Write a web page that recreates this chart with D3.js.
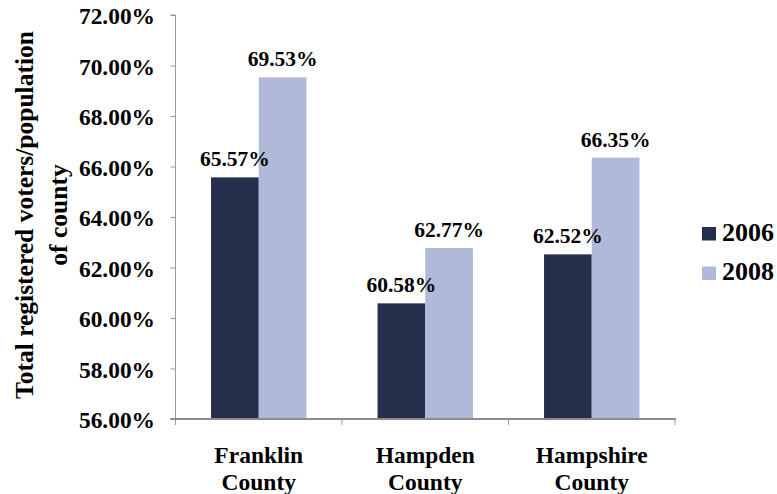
<!DOCTYPE html>
<html>
<head>
<meta charset="utf-8">
<script src="https://cdn.jsdelivr.net/npm/d3@7"></script>
<style>
  body { margin: 0; background: #fff; }
  text { font-family: "Liberation Serif", "Times New Roman", serif; font-weight: bold; fill: #000; }
</style>
</head>
<body>
<div id="chart"></div>
<script>
// data
let counties = ["Franklin County", "Hampden County", "Hampshire County"];
let years = ["2006", "2008"];
let v2006 = [65.57, 60.58, 62.52];
let v2008 = [69.53, 62.77, 66.35];
let yTicks = [56, 58, 60, 62, 64, 66, 68, 70, 72];

let palette = ["#252e4a", "#b0b9d7"];

let width = 777,
    height = 494,
    plotLeft = 175.5,
    plotRight = 675,
    plotTop = 15,
    plotBottom = 419;

let rows = counties.map((c, i) => ({county: c, values: [v2006[i], v2008[i]]}));

let svg = d3.select("#chart")
    .append("svg")
    .attr("width", width)
    .attr("height", height);

let x0 = d3.scaleBand()
    .domain(counties)
    .range([plotLeft, plotRight])
    .paddingInner(0)
    .paddingOuter(0);

let x1 = d3.scaleBand()
    .domain(years)
    .range([0, x0.bandwidth()])
    .paddingInner(0)
    .paddingOuter(0.745);

let y = d3.scaleLinear()
    .domain([56, 72])
    .range([plotBottom, plotTop]);

let color = d3.scaleOrdinal().domain(years).range(palette);

// bars
let group = svg.selectAll("g.county")
    .data(rows)
    .join("g")
    .attr("class", "county")
    .attr("transform", d => `translate(${x0(d.county)},0)`);

group.selectAll("rect")
    .data(d => d.values.map((v, i) => ({year: years[i], value: v})))
    .join("rect")
    .attr("x", d => x1(d.year))
    .attr("y", d => y(d.value))
    .attr("width", x1.bandwidth())
    .attr("height", d => y(56) - y(d.value))
    .attr("fill", d => color(d.year));

group.selectAll("text.val")
    .data(d => d.values.map((v, i) => ({year: years[i], value: v})))
    .join("text")
    .attr("class", "val")
    .attr("x", d => x1(d.year) + x1.bandwidth() / 2)
    .attr("y", d => y(d.value) - 11)
    .attr("text-anchor", "middle")
    .attr("font-size", 21.5)
    .text(d => d.value.toFixed(2) + "%");

// y axis
let yAxis = svg.append("g")
    .attr("transform", `translate(${plotLeft},0)`)
    .call(d3.axisLeft(y)
        .tickValues(yTicks)
        .tickSize(5)
        .tickPadding(15.5)
        .tickFormat(d => d.toFixed(2) + "%"));

yAxis.select(".domain").attr("stroke", "#999").attr("d", `M-5,${plotTop}H0V${plotBottom}H-5`);
yAxis.selectAll(".tick line").attr("stroke", "#999");
yAxis.selectAll(".tick text")
    .attr("font-size", 23.4)
    .attr("font-family", "Liberation Serif, serif")
    .attr("font-weight", "bold")
    .attr("dy", "0.38em");

// x axis with ticks at the band edges
let edges = counties.map(c => x0(c)).concat([x0(counties[counties.length - 1]) + x0.bandwidth()]);

svg.append("line")
    .attr("x1", plotLeft - 5).attr("x2", plotRight + 1)
    .attr("y1", plotBottom).attr("y2", plotBottom)
    .attr("stroke", "#8c8c8c")
    .attr("stroke-width", 2);

svg.selectAll("line.xtick")
    .data(edges)
    .join("line")
    .attr("class", "xtick")
    .attr("x1", d => d).attr("x2", d => d)
    .attr("y1", plotBottom).attr("y2", plotBottom + 6)
    .attr("stroke", "#999");

let xl = svg.selectAll("text.xlab")
    .data(counties)
    .join("text")
    .attr("class", "xlab")
    .attr("text-anchor", "middle")
    .attr("font-size", 23.5)
    .attr("transform", d => `translate(${x0(d) + x0.bandwidth() / 2},463)`);

xl.selectAll("tspan")
    .data(d => d.split(" "))
    .join("tspan")
    .attr("x", 0)
    .attr("y", (d, i) => i * 27)
    .text(d => d);

// y title
let yt = svg.append("text")
    .attr("transform", "translate(0,215) rotate(-90)")
    .attr("text-anchor", "middle")
    .attr("font-size", 25.5);

yt.selectAll("tspan")
    .data(["Total registered voters/population", "of county"])
    .join("tspan")
    .attr("x", 0)
    .attr("y", (d, i) => 33 + i * 34)
    .text(d => d);

// legend
let legend = svg.selectAll("g.legend")
    .data(years)
    .join("g")
    .attr("class", "legend")
    .attr("transform", (d, i) => `translate(702,${227 + i * 39.5})`);

legend.append("rect")
    .attr("width", 14)
    .attr("height", 13.5)
    .attr("fill", d => color(d));

legend.append("text")
    .attr("x", 20)
    .attr("y", 13.5)
    .attr("font-size", 26)
    .text(d => d);
</script>
</body>
</html>
